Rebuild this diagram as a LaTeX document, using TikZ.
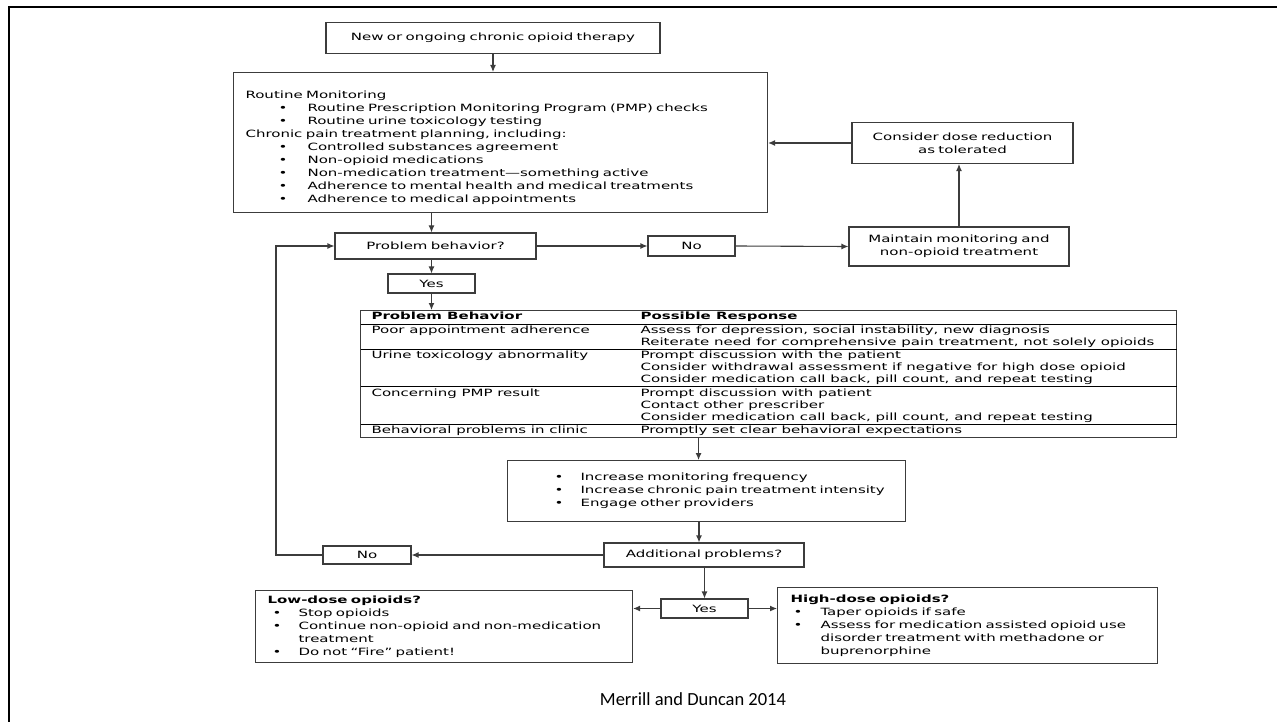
\documentclass[tikz,border=0pt]{standalone}
\usepackage{fontspec}
\usepackage{array}
\usetikzlibrary{arrows.meta}
\newfontfamily\flowfont[FakeStretch=1.5]{DejaVu Sans}
\newfontfamily\capfont{Carlito}
\definecolor{edge}{HTML}{3C3C3C}
\tikzset{
  font={\flowfont\fontsize{10}{13}\selectfont},
  box/.style={draw=edge, line width=1.1pt, align=center},
  lbox/.style={draw=edge, line width=1.1pt, align=left, anchor=north west},
  arr/.style={draw=edge, line width=1.1pt, -{Latex[length=7pt,width=6pt]}}}
\newcommand{\bulitem}[3]{\hspace*{#1pt}\makebox[#2pt][l]{\textbullet}#3}
\setlength{\extrarowheight}{1pt}

\begin{document}
\begin{tikzpicture}[x=1pt,y=1pt]
\tikzstyle{every node}+=[inner sep=0pt]
\useasboundingbox (0,0) rectangle (1277,-722);
\draw [black, line width=2.8pt] (9,-722) -- (9,-7) -- (1277,-7);
% top of the chart
\node [box, text width=334, minimum height=31] (start) at (493,-38) {New or ongoing chronic opioid therapy};
\node [lbox, text width=534, minimum height=140] (plan) at (233,-72) {%
\rule{0pt}{17pt}\hspace*{12pt}Routine Monitoring\\
\bulitem{45}{29}{Routine Prescription Monitoring Program (PMP) checks}\\
\bulitem{45}{29}{Routine urine toxicology testing}\\
\hspace*{12pt}Chronic pain treatment planning, including:\\
\bulitem{45}{29}{Controlled substances agreement}\\
\bulitem{45}{29}{Non-opioid medications}\\
\bulitem{45}{29}{Non-medication treatment—something active}\\
\bulitem{45}{29}{Adherence to mental health and medical treatments}\\
\bulitem{45}{29}{Adherence to medical appointments}};
\node [box, text width=221, minimum height=41] (dose) at (962.5,-143) {Consider dose reduction\\as tolerated};
\node [box, text width=201, minimum height=26] (prob) at (435.5,-246) {Problem behavior?};
\node [box, text width=87, minimum height=20] (no1) at (691.5,-246) {No};
\node [box, text width=220, minimum height=39] (maint) at (959,-246.5) {Maintain monitoring and\\non-opioid treatment};
\node [box, text width=87, minimum height=19] (yes1) at (431.5,-283.5) {Yes};
% table of problem behaviors
\node [draw=edge, line width=1.1pt, anchor=north west, font={\flowfont\fontsize{10}{12}\selectfont}] (table) at (360,-310) {%
\begin{tabular}{@{\hspace{11pt}}p{269pt}@{}>{\raggedright\arraybackslash}p{536pt}@{}}
\textbf{Problem Behavior} & \textbf{Possible Response}\\\hline
Poor appointment adherence & Assess for depression, social instability, new diagnosis\newline
Reiterate need for comprehensive pain treatment, not solely opioids\\\hline
Urine toxicology abnormality & Prompt discussion with the patient\newline
Consider withdrawal assessment if negative for high dose opioid\newline
Consider medication call back, pill count, and repeat testing\\\hline
Concerning PMP result & Prompt discussion with patient\newline
Contact other prescriber\newline
Consider medication call back, pill count, and repeat testing\\\hline
Behavioral problems in clinic & Promptly set clear behavioral expectations\\
\end{tabular}};
% bottom of the chart
\node [lbox, text width=398, minimum height=61] (inc) at (507,-460) {%
\bulitem{47}{26}{Increase monitoring frequency}\\
\bulitem{47}{26}{Increase chronic pain treatment intensity}\\
\bulitem{47}{26}{Engage other providers}\\[4pt]};
\node [box, text width=200, minimum height=24] (addl) at (704,-555) {Additional problems?};
\node [box, text width=88, minimum height=18] (no2) at (367,-555) {No};
\node [box, text width=87, minimum height=19] (yes2) at (704.5,-608.5) {Yes};
\node [lbox, text width=377, minimum height=72] (low) at (255,-590) {%
\hspace*{12pt}\textbf{Low-dose opioids?}\\
\bulitem{17}{26}{Stop opioids}\\
\bulitem{17}{26}{Continue non-opioid and non-medication}\\
\hspace*{43pt}treatment\\
\bulitem{17}{26}{Do not “Fire” patient!}\\[2pt]};
\node [lbox, text width=380, minimum height=76] (high) at (777,-587) {%
\hspace*{13pt}\textbf{High-dose opioids?}\\
\bulitem{16}{27}{Taper opioids if safe}\\
\bulitem{16}{27}{Assess for medication assisted opioid use}\\
\hspace*{43pt}disorder treatment with methadone or\\
\hspace*{43pt}buprenorphine\\[2pt]};
\node [anchor=base, font={\capfont\fontsize{18.5}{22}\selectfont}] (cite) at (693,-705) {Merrill and Duncan 2014};
\coordinate (loop) at (276,-555);
% connectors
\draw [arr] (start.south) -- (start.south |- plan.north);
\draw [arr] (yes1.north |- plan.south) -- (yes1.north |- prob.north);
\draw [arr] (dose.west) -- (dose.west -| plan.east);
\draw [arr] (prob.east) -- (no1.west);
\draw [arr] (no1.east) -- (maint.west);
\draw [arr] (maint.north) -- (maint.north |- dose.south);
\draw [arr] (yes1.north |- prob.south) -- (yes1.north);
\draw [arr] (yes1.south) -- (yes1.south |- table.north);
\draw [arr] ([xshift=-8pt]inc.north |- table.south) -- ([xshift=-8pt]inc.north);
\draw [arr] ([xshift=-5pt]addl.north |- inc.south) -- ([xshift=-5pt]addl.north);
\draw [arr] (addl.west) -- (no2.east);
\draw [arr] (no2.west) -- (loop) |- (prob.west);
\draw [arr] (yes2.north |- addl.south) -- (yes2.north);
\draw [arr] (yes2.west) -- (yes2.west -| low.east);
\draw [arr] (yes2.east) -- (yes2.east -| high.west);
\end{tikzpicture}
\end{document}
